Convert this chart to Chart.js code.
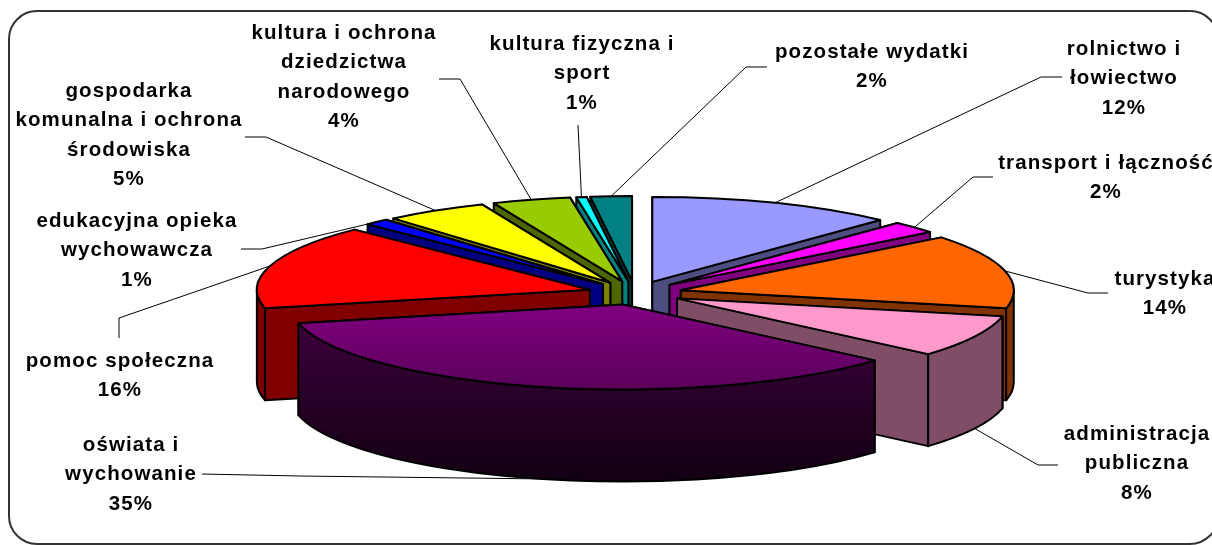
<!DOCTYPE html>
<html lang="pl">
<head>
<meta charset="utf-8">
<title>Wydatki</title>
<script src="https://cdn.jsdelivr.net/npm/chart.js@4/dist/chart.umd.min.js"></script>
<style>
  html, body { margin: 0; padding: 0; background: #fff; overflow: hidden; }
  canvas { display: block; }
</style>
</head>
<body>
<canvas id="wykres" width="1212" height="545"></canvas>
<script>
// dane
const categories = [
  ['rolnictwo i', 'łowiectwo'],
  ['transport i łączność'],
  ['turystyka'],
  ['administracja', 'publiczna'],
  ['oświata i', 'wychowanie'],
  ['pomoc społeczna'],
  ['edukacyjna opieka', 'wychowawcza'],
  ['gospodarka', 'komunalna i ochrona', 'środowiska'],
  ['kultura i ochrona', 'dziedzictwa', 'narodowego'],
  ['kultura fizyczna i', 'sport'],
  ['pozostałe wydatki']
];
const values = [12, 2.3, 14.1, 8, 35.1, 16, 1.2, 5, 3.8, 0.5, 2];
const topColors = ['#9999ff', '#ff00ff', '#ff6600', '#ff99cc', '#800080', '#ff0000', '#0000ff', '#ffff00', '#99cc00', '#00ffff', '#008080'];
const wallColors = ['#4d4d80', '#800080', '#803300', '#804d66', '#330033', '#800000', '#000080', '#808000', '#4d6600', '#008080', '#004040'];

// uklad opisow: srodek tekstu i y pierwszego wiersza
const labelX = [1124, 1106, 1165, 1137, 131, 120, 137, 129, 344, 582, 872];
const labelY = [49, 163, 279, 434, 445, 361, 221, 91, 33, 44, 52];
// linie odniesienia: zalamanie i koniec przy opisie
const leaderBend = [[1041, 77], [973, 177], [1088, 293], [1038, 465], [300, 476], [119, 318], [262, 249], [266, 137], [460, 79], [578, 125], [746, 67]];
const leaderEnd = [[1062, 77], [993, 177], [1108, 293], [1058, 465], [202, 474], [119, 338], [241, 249], [245, 137], [439, 79], [578, 125], [767, 67]];

const SQUASH = 0.255;   // spłaszczenie elipsy
const DEPTH = 92;       // wysokosc sciany
const EXPLODE = 47;     // odsuniecie wycinkow
const RADIUS = 333;
const LINE_H = 29.6;

const canvas = document.getElementById('wykres');
const ctx = canvas.getContext('2d');

// gradienty dla wycinka "oswiata"
const topGrad = ctx.createLinearGradient(0, 339, 0, 672);
topGrad.addColorStop(0, '#800080');
topGrad.addColorStop(1, '#5a005a');
const wallGrad = ctx.createLinearGradient(0, 325, 0, 483);
wallGrad.addColorStop(0, '#3a003a');
wallGrad.addColorStop(1, '#120012');

topColors[4] = topGrad;
wallColors[4] = wallGrad;

function centerY(chart) {
  return (chart.chartArea.top + chart.chartArea.bottom) / 2;
}

// y na ekranie po spłaszczeniu
function screenY(chart, y) {
  const cy = centerY(chart);
  return cy + (y - cy) * SQUASH;
}

function drawWalls(chart, c) {
  const arcs = chart.getDatasetMeta(0).data;
  const order = arcs.map((a, i) => i).sort((p, q) => {
    const mp = (arcs[p].startAngle + arcs[p].endAngle) / 2;
    const mq = (arcs[q].startAngle + arcs[q].endAngle) / 2;
    return Math.sin(mp) - Math.sin(mq);
  });

  c.lineWidth = 2;
  c.strokeStyle = '#000';
  c.lineJoin = 'round';
  order.forEach(i => {
    const a = arcs[i];
    const sy = screenY(chart, a.y);
    c.fillStyle = wallColors[i];

    // sciany promieniowe, najpierw ta dalsza
    const edges = [a.startAngle, a.endAngle].sort((u, v) => Math.sin(u) - Math.sin(v));
    edges.forEach(ang => {
      const ex = a.x + a.outerRadius * Math.cos(ang);
      const ey = sy + a.outerRadius * SQUASH * Math.sin(ang);
      c.beginPath();
      c.moveTo(a.x, sy);
      c.lineTo(ex, ey);
      c.lineTo(ex, ey + DEPTH);
      c.lineTo(a.x, sy + DEPTH);
      c.closePath();
      c.fill();
      c.stroke();
    });

    // sciana zewnetrzna, tylko dolna polowa elipsy
    const from = Math.max(a.startAngle, 0);
    const to = Math.min(a.endAngle, Math.PI);
    if (to > from) {
      const ry = a.outerRadius * SQUASH;
      c.beginPath();
      c.ellipse(a.x, sy, a.outerRadius, ry, 0, from, to, false);
      c.ellipse(a.x, sy + DEPTH, a.outerRadius, ry, 0, to, from, true);
      c.closePath();
      c.fill();
      c.stroke();
    }
  });
}

function drawFrame(c) {
  c.save();
  c.strokeStyle = '#333';
  c.lineWidth = 2;
  c.beginPath();
  c.roundRect(9, 11, 1209, 533, 28);
  c.stroke();
  c.restore();
}

function drawLabels(chart, c) {
  const arcs = chart.getDatasetMeta(0).data;
  c.save();
  arcs.forEach((a, i) => {
    const mid = (a.startAngle + a.endAngle) / 2;
    const sy = screenY(chart, a.y);
    const startX = a.x + a.outerRadius * Math.cos(mid);
    let startY = sy + a.outerRadius * SQUASH * Math.sin(mid);
    if (Math.sin(mid) > 0.3) startY += DEPTH;

    c.strokeStyle = '#000';
    c.lineWidth = 1;
    c.beginPath();
    c.moveTo(startX, startY);
    c.lineTo(leaderBend[i][0], leaderBend[i][1]);
    c.lineTo(leaderEnd[i][0], leaderEnd[i][1]);
    c.stroke();

    c.fillStyle = '#000';
    c.font = 'bold 20.5px "Liberation Sans", Arial, sans-serif';
    c.letterSpacing = '1.1px';
    c.textAlign = 'center';
    c.textBaseline = 'middle';
    const lines = categories[i].concat(Math.round(values[i]) + '%');
    lines.forEach((txt, n) => {
      c.fillText(txt, labelX[i], labelY[i] + n * LINE_H);
    });
  });
  c.restore();
}

const pie3d = {
  id: 'pie3d',
  beforeDraw(chart) {
    drawFrame(chart.ctx);
  },
  afterDatasetsUpdate(chart) {
    const cx = (chart.chartArea.left + chart.chartArea.right) / 2;
    const cy = centerY(chart);
    chart.getDatasetMeta(0).data.forEach(a => {
      const mid = (a.startAngle + a.endAngle) / 2;
      a.x = cx + EXPLODE * Math.cos(mid);
      a.y = cy + EXPLODE * Math.sin(mid);
    });
  },
  beforeDatasetsDraw(chart) {
    const c = chart.ctx;
    drawWalls(chart, c);
    // wierzch rysuje Chart.js w spłaszczonym ukladzie
    const cy = centerY(chart);
    c.save();
    c.translate(0, cy);
    c.scale(1, SQUASH);
    c.translate(0, -cy);
  },
  afterDatasetsDraw(chart) {
    const c = chart.ctx;
    c.restore();
    // obrys wierzchu bez spłaszczania grubosci linii
    c.save();
    c.lineWidth = 2;
    c.strokeStyle = '#000';
    c.lineJoin = 'round';
    chart.getDatasetMeta(0).data.forEach(a => {
      const sy = screenY(chart, a.y);
      c.beginPath();
      c.moveTo(a.x, sy);
      c.ellipse(a.x, sy, a.outerRadius, a.outerRadius * SQUASH, 0, a.startAngle, a.endAngle, false);
      c.closePath();
      c.stroke();
    });
    c.restore();
    drawLabels(chart, c);
  }
};

new Chart(ctx, {
  type: 'pie',
  data: {
    labels: categories.map(l => l.join(' ')),
    datasets: [{
      data: values,
      backgroundColor: topColors,
      borderWidth: 0,
      radius: RADIUS,
      clip: false
    }]
  },
  options: {
    responsive: false,
    animation: false,
    layout: { padding: { left: 58, top: 41 } },
    plugins: {
      legend: { display: false },
      tooltip: { enabled: false }
    }
  },
  plugins: [pie3d]
});
</script>
</body>
</html>
